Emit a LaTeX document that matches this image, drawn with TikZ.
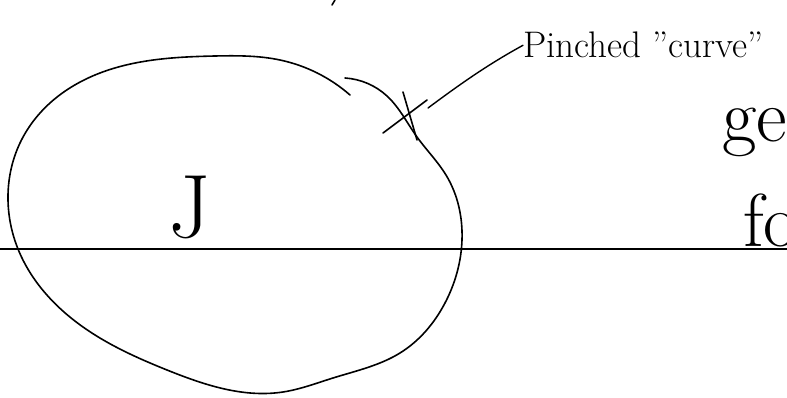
\documentclass[tikz,border=0pt]{standalone}
\usepackage{fontspec}
\usepackage{tikz}
\usetikzlibrary{positioning, calc, hobby}
\tikzset{
	pen/.style     ={line width=1.6pt, line cap=round, line join=round},
	axisline/.style={line width=1.2pt},
	leader/.style  ={line width=1.4pt, line cap=round},
	note/.style    ={inner sep=0pt, font=\fontsize{37}{40}\selectfont},
	bigtxt/.style  ={inner sep=0pt, font=\fontsize{90}{90}\selectfont},
	edgetxt/.style ={inner sep=0pt, font=\fontsize{75}{80}\selectfont},
}
\begin{document}
\begin{tikzpicture}[x=1pt, y=-1pt]
	\useasboundingbox (0,0) rectangle (787,398);
	\clip (0,0) rectangle (787,398);
	% horizontal line
	\coordinate (lft) at (0,249);
	\coordinate (rgt) at (787,249);
	\draw[axisline] (lft) -- (rgt);
	% closed curve, drawn in one open stroke
	\draw[pen, use Hobby shortcut] (345,78) .. (387,96) .. (417,137) .. (446,175) .. (462,240) .. (445,303) .. (400,353) .. (333,378) .. (283,392) .. (167,370) .. (83,327) .. (18,249) .. (8,200) .. (20,143) .. (50,103) .. (100,73) .. (215,56) .. (280,60) .. (350,95);
	% pinch mark
	\coordinate (pinch) at (428,108);
	\draw[pen] (403,92) -- (417,140);
	\draw[pen] (427,100) -- (383,133);
	% labels
	\node[note, anchor=base west] (lbl) at (523,58) {Pinched ''curve''};
	\draw[leader] (pinch) .. controls (455,88) and (485,66) .. (lbl.west);
	\node[bigtxt] (jlab) at (190,207) {J};
	\node[edgetxt, anchor=base west] (ge) at (722,142) {ge};
	\node[edgetxt, anchor=base west] (fo) at (743,247) {fo};
	\draw[pen] (335,0) -- (332,5);
\end{tikzpicture}
\end{document}
